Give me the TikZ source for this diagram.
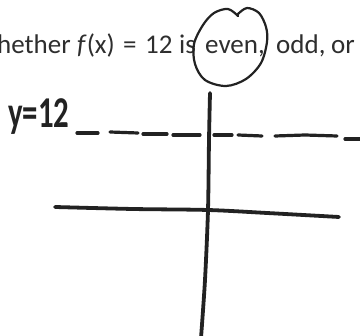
\documentclass[tikz,border=0pt]{standalone}
\usepackage{fontspec}
\setmainfont{Carlito}
\definecolor{txt}{HTML}{2E2E2E}
\definecolor{ink}{HTML}{222222}
\tikzset{
  pen/.style={draw=ink, line cap=round, line join=round},
  axis/.style={pen, line width=3.8pt},
  dashseg/.style={pen, line width=3.2pt},
  circ/.style={pen, line width=2.2pt},
  word/.style={anchor=base west, inner sep=0pt, text=txt, font=\fontsize{27}{33}\selectfont},
}
\begin{document}
\begin{tikzpicture}[x=1pt,y=-1pt]
\useasboundingbox (0,0) rectangle (360,336);
\fill[white] (0,0) rectangle (360,336);
\begin{scope}
\clip (0,0) rectangle (360,336);
% printed question text
\node[word] (w1) at (-3,54) {hether};
\node[word] (w2) at (77,54) {\textit{f}(x)};
\node[word] (w3) at (123,54) {=};
\node[word] (w4) at (145,54) {12};
\node[word] (w5) at (179,54) {is};
\node[word] (w6) at (205,54) {even,};
\node[word] (w7) at (276,54) {odd,};
\node[word] (w8) at (331,54) {or};
% circle around "even"
\draw[circ] plot[smooth, tension=0.55] coordinates {(238,14) (247,8) (259,13) (266,27) (267,42) (261,63) (246,79) (226,86) (205,80) (195,64) (194,44) (203,25) (214,13) (228,9) (238,16)};
% axes
\coordinate (vt) at (210,93);
\coordinate (vb) at (201,338);
\coordinate (hl) at (55,207);
\coordinate (hr) at (339,217);
\draw[axis] plot[smooth] coordinates {(vt) (209,140) (208,210) (205,280) (vb)};
\draw[axis] plot[smooth] coordinates {(hl) (133,209) (208,210) (267,213) (hr)};
% dashed line y=12
\draw[dashseg] (77,133) -- (98,133);
\draw[dashseg] (110,132) -- (138,133);
\draw[dashseg] (143,134) -- (167,134);
\draw[dashseg] (173,135) -- (200,135);
\draw[dashseg] (214,135) -- (232,135);
\draw[dashseg] (238,135) -- (262,136);
\draw[dashseg] (275,136) -- (305,135) -- (337,136);
\draw[dashseg] (345,139) -- (362,139);
% handwritten label
\node[anchor=base west, inner sep=0pt, text=ink, xscale=0.7, font=\bfseries\fontsize{44}{50}\selectfont] (lbl) at (8,128) {y=12};
\end{scope}
\end{tikzpicture}
\end{document}
